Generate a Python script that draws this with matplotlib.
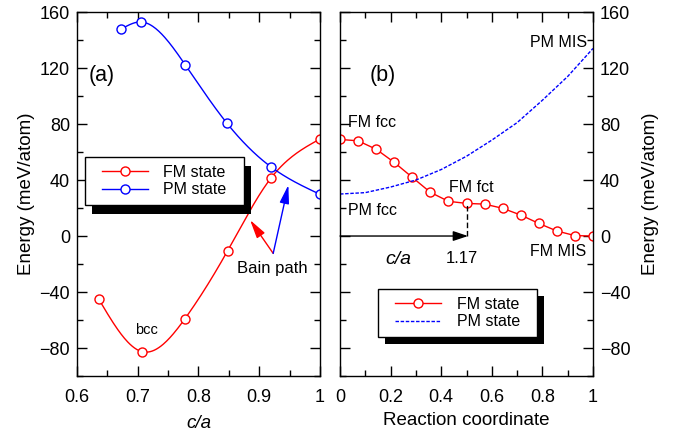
import numpy as np
import matplotlib
matplotlib.use('Agg')
import matplotlib.pyplot as plt
from matplotlib.patches import Rectangle
from matplotlib.ticker import MultipleLocator

plt.rcParams['font.family'] = ['Liberation Sans', 'DejaVu Sans']
plt.rcParams['font.size'] = 13

# (a) Bain path
ca_fm = [0.636, 0.707, 0.777, 0.848, 0.919, 1.0]
e_fm = [-45.2, -82.6, -59.5, -10.5, 41.2, 69.3]
ca_pm = [0.672, 0.706, 0.778, 0.847, 0.919, 1.0]
e_pm = [147.6, 152.9, 122.4, 80.5, 49.5, 29.8]

# (b) reaction coordinate
rc_fm = [i / 14 for i in range(15)]
e_fm_b = [69, 68, 62, 52.6, 41.9, 31.2, 24.8, 23.3, 22.8, 19.8, 15, 9, 3.6, 0.3, 0]
rc_pm = [0, 0.1, 0.2, 0.3, 0.4, 0.5, 0.6, 0.7, 0.8, 0.9, 1.0]
e_pm_b = [30, 31, 35, 40, 47.5, 57, 68.5, 81, 97, 114, 134]


# natural cubic spline for the smooth lines in (a)
def spline(x, y, n=200):
    x = np.asarray(x, float)
    y = np.asarray(y, float)
    m = len(x)
    h = np.diff(x)
    A = np.zeros((m, m))
    b = np.zeros(m)
    A[0, 0] = 1
    A[-1, -1] = 1
    for i in range(1, m - 1):
        A[i, i - 1] = h[i - 1]
        A[i, i] = 2 * (h[i - 1] + h[i])
        A[i, i + 1] = h[i]
        b[i] = 6 * ((y[i + 1] - y[i]) / h[i] - (y[i] - y[i - 1]) / h[i - 1])
    M = np.linalg.solve(A, b)
    xs = np.linspace(x[0], x[-1], n)
    k = np.clip(np.searchsorted(x, xs) - 1, 0, m - 2)
    t0 = xs - x[k]
    t1 = x[k + 1] - xs
    hk = h[k]
    ys = (M[k] * t1**3 + M[k + 1] * t0**3) / (6 * hk) \
        + (y[k] / hk - M[k] * hk / 6) * t1 + (y[k + 1] / hk - M[k + 1] * hk / 6) * t0
    return xs, ys


fig = plt.figure(figsize=(6.85, 4.33), dpi=100)
ax1 = fig.add_axes([0.1124, 0.1316, 0.3547, 0.8406])
ax2 = fig.add_axes([0.4964, 0.1316, 0.3693, 0.8406])

mk = dict(marker='o', ms=6.5, mfc='white', mew=1)
arrow = '-|>,head_length=0.7,head_width=0.18'

xs, ys = spline(ca_fm, e_fm)
ax1.plot(xs, ys, color='red', lw=1)
ax1.plot(ca_fm, e_fm, ls='none', color='red', **mk)
xs, ys = spline(ca_pm, e_pm)
ax1.plot(xs, ys, color='blue', lw=1)
ax1.plot(ca_pm, e_pm, ls='none', color='blue', **mk)
h1, = ax1.plot([], [], color='red', lw=1, **mk)
h2, = ax1.plot([], [], color='blue', lw=1, **mk)

ax1.set_xlim(0.6, 1.0)
ax1.set_ylim(-100, 160)
ax1.xaxis.set_minor_locator(MultipleLocator(0.05))
ax1.yaxis.set_major_locator(MultipleLocator(40))
ax1.yaxis.set_minor_locator(MultipleLocator(20))
ax1.set_xticks([0.6, 0.7, 0.8, 0.9, 1.0], ['0.6', '0.7', '0.8', '0.9', '1'])
ax1.set_xlabel('c/a', fontstyle='italic', fontsize=13.5, labelpad=7)
ax1.set_ylabel('Energy (meV/atom)', fontsize=13.5, labelpad=3)

ax1.text(0.641, 115, '(a)', fontsize=15.5, ha='center', va='center')
ax1.text(0.715, -67, 'bcc', fontsize=10.5, ha='center', va='center')
ax1.text(0.921, -23.5, 'Bain path', fontsize=12, ha='center', va='center')
ax1.annotate('', xy=(0.885, 11.4), xytext=(0.923, -12.4),
             arrowprops=dict(arrowstyle=arrow, color='red', lw=1, mutation_scale=16, shrinkA=0, shrinkB=0))
ax1.annotate('', xy=(0.948, 36.4), xytext=(0.923, -12.4),
             arrowprops=dict(arrowstyle=arrow, color='blue', lw=1, mutation_scale=16, shrinkA=0, shrinkB=0))

legkw = dict(loc='upper left', frameon=False, fontsize=11.5, handlelength=2.9,
             handletextpad=0.95, borderpad=0.5, labelspacing=0.15, borderaxespad=0)
leg1 = ax1.legend([h1, h2], ['FM state', 'PM state'], bbox_to_anchor=(0.070, 0.602), **legkw)

# (b)
ax2.plot(rc_fm, e_fm_b, color='red', lw=1, **mk, label='FM state')
ax2.plot(rc_pm, e_pm_b, color='blue', lw=1, ls=(0, (2.5, 1.2)), label='PM state')
ax2.set_xlim(0, 1)
ax2.set_ylim(-100, 160)
ax2.xaxis.set_minor_locator(MultipleLocator(0.1))
ax2.yaxis.set_major_locator(MultipleLocator(40))
ax2.yaxis.set_minor_locator(MultipleLocator(20))
ax2.set_xticks([0, 0.2, 0.4, 0.6, 0.8, 1.0], ['0', '0.2', '0.4', '0.6', '0.8', '1'])
ax2.set_xlabel('Reaction coordinate', fontsize=13.5, labelpad=5)
ax2.yaxis.set_label_position('right')
ax2.set_ylabel('Energy (meV/atom)', fontsize=13.5, labelpad=8)

ax2.text(0.17, 115, '(b)', fontsize=15.5, ha='center', va='center')
ax2.text(0.03, 81, 'FM fcc', fontsize=11.5, ha='left', va='center')
ax2.text(0.03, 18, 'PM fcc', fontsize=11.5, ha='left', va='center')
ax2.text(0.52, 35, 'FM fct', fontsize=11.5, ha='center', va='center')
ax2.text(0.975, 138, 'PM MIS', fontsize=11.5, ha='right', va='center')
ax2.text(0.975, -11, 'FM MIS', fontsize=11.5, ha='right', va='center')
ax2.text(0.23, -16.5, 'c/a', fontsize=14, fontstyle='italic', ha='center', va='center')
ax2.text(0.48, -16, '1.17', fontsize=12, ha='center', va='center')
ax2.annotate('', xy=(0.506, 0), xytext=(0, 0),
             arrowprops=dict(arrowstyle='-|>,head_length=0.75,head_width=0.25', color='black',
                             lw=1, mutation_scale=12, shrinkA=0, shrinkB=0))
ax2.plot([0.5, 0.5], [0, 23.3], color='black', lw=1, ls=(0, (4, 2)))

leg2 = ax2.legend(bbox_to_anchor=(0.186, 0.239), **legkw)

for ax in (ax1, ax2):
    ax.tick_params(which='both', direction='in', top=True, right=True, left=True, width=1, labelsize=13)
    ax.tick_params(which='major', length=7)
    ax.tick_params(which='minor', length=4)
    for s in ax.spines.values():
        s.set_linewidth(1)
ax1.tick_params(axis='x', pad=9)
ax2.tick_params(axis='x', pad=9)
ax1.tick_params(axis='y', pad=5)
ax2.tick_params(axis='y', labelleft=False, labelright=True, pad=5)

# legend frames (wider at the sides) with black shadows
fig.canvas.draw()
inv = fig.transFigure.inverted()
for ax, leg, (ox, oy) in ((ax1, leg1, (7, 9)), (ax2, leg2, (7, 7))):
    bb = leg.get_window_extent()
    x0, y0 = inv.transform((bb.x0 - 9, bb.y0))
    x1, y1 = inv.transform((bb.x1 + 9, bb.y1))
    dx, dy = inv.transform((ox, oy)) - inv.transform((0, 0))
    ax.add_patch(Rectangle((x0 + dx, y0 - dy), x1 - x0, y1 - y0, transform=fig.transFigure,
                           facecolor='black', edgecolor='none', zorder=4.8, clip_on=False))
    ax.add_patch(Rectangle((x0, y0), x1 - x0, y1 - y0, transform=fig.transFigure,
                           facecolor='white', edgecolor='black', lw=1, zorder=4.9, clip_on=False))

fig.savefig('out.png', dpi=100)
